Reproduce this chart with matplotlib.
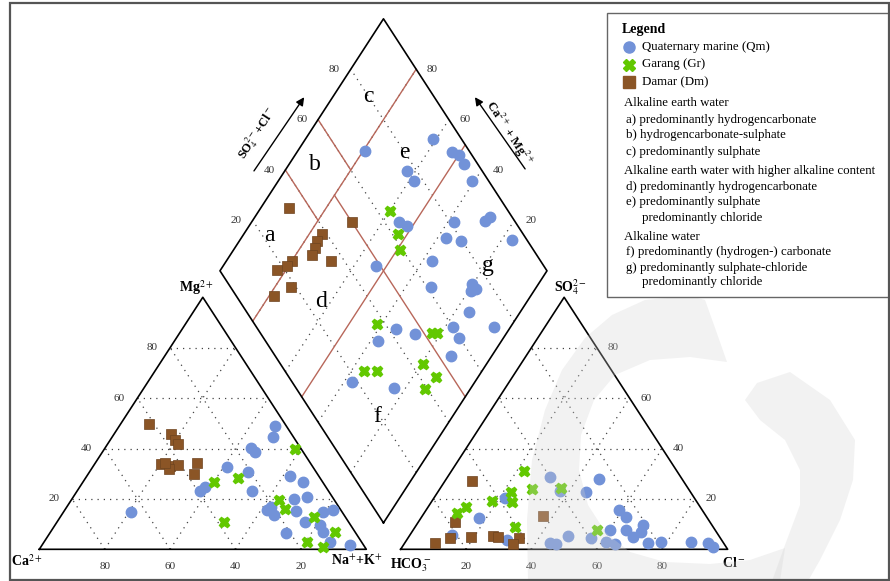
import numpy as np
import matplotlib
matplotlib.use('Agg')
import matplotlib.pyplot as plt
from matplotlib.patches import Rectangle, Polygon

plt.rcParams['font.family'] = ['Liberation Serif', 'DejaVu Serif']
plt.rcParams['mathtext.fontset'] = 'stix'

# ---- data (percent) ----
# cation triangle: Mg2+ %, Na+ + K+ %
qm_cat_mg = [14.7, 48.9, 44.4, 40.1, 38.7, 32.5, 30.8, 24.8, 23.3, 23.3, 29.1, 26.6, 19.8, 20.6,
             15.6, 13.6, 15.3, 6.3, 10.7, 9.6, 14.9, 15.6, 7.0, 3.0, 1.7, 16.7]
qm_cat_nak = [20.6, 47.6, 49.4, 44.6, 46.6, 41.3, 48.5, 38.3, 37.5, 53.4, 62.2, 67.2, 68.0, 71.7,
              61.7, 65.0, 71.0, 72.2, 75.9, 81.0, 79.2, 82.1, 83.4, 87.4, 94.1, 62.5]
gr_cat_mg = [26.8, 28.4, 39.7, 11.0, 19.6, 15.9, 12.7, 7.0, 3.0, 1.0]
gr_cat_nak = [40.1, 46.7, 58.4, 51.0, 63.6, 67.2, 77.7, 86.9, 80.5, 86.2]
dm_cat_mg = [49.7, 45.8, 43.4, 41.8, 33.8, 33.1, 33.5, 31.7, 34.4, 29.9, 34.4]
dm_cat_nak = [8.6, 17.4, 19.8, 21.6, 20.2, 23.5, 25.8, 23.9, 30.9, 32.4, 21.2]

# anion triangle: SO4 2- %, Cl- %
qm_an_so4 = [27.9, 22.6, 28.6, 23.3, 20.2, 12.5, 5.7, 3.7, 15.6, 12.7, 9.6, 7.0, 3.0, 2.8, 2.4, 1.0,
             2.4, 2.1, 5.3, 4.4, 7.7, 3.0, 2.1, 7.7, 5.0, 2.4]
qm_an_cl = [46.8, 45.5, 31.3, 37.0, 21.7, 17.7, 12.8, 30.6, 59.1, 62.7, 69.3, 70.1, 78.2, 87.4, 92.7, 94.9,
            44.4, 46.6, 48.6, 56.1, 60.1, 61.4, 64.4, 65.0, 68.5, 74.4]
gr_an_so4 = [31.2, 23.8, 24.2, 22.6, 18.9, 19.2, 16.7, 14.3, 9.0, 7.7]
gr_an_cl = [22.0, 28.4, 37.0, 22.6, 24.7, 18.2, 11.6, 10.0, 30.4, 56.2]
dm_an_so4 = [27.1, 11.0, 4.8, 4.4, 2.4, 5.3, 5.0, 4.4, 2.1, 13.2]
dm_an_cl = [8.4, 11.1, 19.0, 12.8, 9.3, 25.7, 27.3, 34.0, 33.4, 36.9]

# diamond: SO4+Cl %, Ca+Mg %
qm_dia_a = [68.0, 91.3, 94.5, 96.0, 95.7, 77.1, 77.1, 95.0, 64.3, 66.2, 81.1, 91.1, 93.3, 75.5, 79.8, 95.5,
            66.7, 48.8, 61.1, 74.5, 72.7, 74.5, 68.2, 72.6, 60.0, 59.7, 53.6, 42.3, 47.0, 34.4, 18.3, 30.0]
qm_dia_b = [79.6, 61.0, 52.5, 50.0, 46.6, 62.6, 58.6, 40.8, 54.9, 51.7, 38.1, 28.7, 27.9, 37.5, 32.1, 16.8,
            37.3, 53.2, 32.3, 20.3, 19.4, 18.2, 15.6, 5.2, 17.6, 13.6, 12.6, 34.6, 27.8, 37.6, 37.4, 23.7]
gr_dia_a = [64.0, 61.9, 59.3, 37.5, 24.2, 28.2, 52.3, 54.0, 43.5, 45.1, 39.4]
gr_dia_b = [59.8, 52.9, 48.9, 41.4, 36.2, 32.1, 22.9, 21.2, 19.5, 12.9, 13.7]
dm_dia_a = [33.7, 50.0, 38.5, 35.7, 33.6, 31.4, 36.0, 24.0, 21.6, 17.7, 18.4, 11.5]
dm_dia_b = [91.2, 69.2, 76.0, 76.3, 75.6, 75.0, 67.8, 79.8, 80.5, 82.6, 75.0, 78.6]

ticks = [20, 40, 60, 80]
region_letters = ['a', 'b', 'c', 'd', 'e', 'f', 'g']
# region label positions in diamond coords (SO4+Cl, Ca+Mg)
region_a = [22, 50, 80, 25, 80, 19, 83]
region_b = [92, 92, 89, 63, 67, 23, 19]

legend_lines = [
    ('Alkaline earth water', 0),
    ('a) predominantly hydrogencarbonate', 1),
    ('b) hydrogencarbonate-sulphate', 1),
    ('c) predominantly sulphate', 1),
    ('Alkaline earth water with higher alkaline content', 0),
    ('d) predominantly hydrogencarbonate', 1),
    ('e) predominantly sulphate', 1),
    ('predominantly chloride', 2),
    ('Alkaline water', 0),
    ('f) predominantly (hydrogen-) carbonate', 1),
    ('g) predominantly sulphate-chloride', 1),
    ('predominantly chloride', 2),
]

BLUE = '#7292d8'
GREEN = '#62c800'
BROWN = '#8b5526'
RED = '#b8675a'

H = np.sqrt(3) / 2
GAP = 0.105
OFF = 1 + GAP


def cat_xy(mg, nak):
    mg = np.asarray(mg) / 100.0
    nak = np.asarray(nak) / 100.0
    return nak + mg / 2, mg * H


def an_xy(so4, cl):
    so4 = np.asarray(so4) / 100.0
    cl = np.asarray(cl) / 100.0
    return OFF + cl + so4 / 2, so4 * H


def dia_xy(a, b):
    a = np.asarray(a) / 100.0
    b = np.asarray(b) / 100.0
    return 1 + GAP / 2 + (a - b) / 2, GAP * H + (a + b) * H


fig = plt.figure(figsize=(8.9, 5.81), dpi=100)
ax = fig.add_axes([0, 0, 1, 1])
ax.set_xlim(-0.1202, 2.6015)
ax.set_ylim(-0.1089, 1.8876)
ax.axis('off')


def fpx(x, y):
    return x / 890.0, 1 - y / 581.0


grid_kw = dict(color='#444444', lw=0.9, ls=(0, (1, 4)), zorder=1)

for t in ticks:
    # cation triangle
    x, y = cat_xy([t, t], [0, 100 - t]); ax.plot(x, y, **grid_kw)
    x, y = cat_xy([0, 100 - t], [t, t]); ax.plot(x, y, **grid_kw)
    x, y = cat_xy([0, 100 - t], [100 - t, 0]); ax.plot(x, y, **grid_kw)
    # anion triangle
    x, y = an_xy([t, t], [0, 100 - t]); ax.plot(x, y, **grid_kw)
    x, y = an_xy([0, 100 - t], [t, t]); ax.plot(x, y, **grid_kw)
    x, y = an_xy([0, 100 - t], [100 - t, 0]); ax.plot(x, y, **grid_kw)
    # diamond
    x, y = dia_xy([t, t], [0, 100]); ax.plot(x, y, **grid_kw)
    x, y = dia_xy([0, 100], [t, t]); ax.plot(x, y, **grid_kw)

x, y = cat_xy([0, 0, 100, 0], [0, 100, 0, 0]); ax.plot(x, y, color='black', lw=1.2, zorder=3)
x, y = an_xy([0, 0, 100, 0], [0, 100, 0, 0]); ax.plot(x, y, color='black', lw=1.2, zorder=3)
x, y = dia_xy([0, 100, 100, 0, 0], [0, 0, 100, 100, 0]); ax.plot(x, y, color='black', lw=1.2, zorder=3)

# region boundaries (Furtak & Langguth)
red_lines = [([0, 100], [80, 80]), ([0, 100], [50, 50]), ([50, 50], [0, 80]),
             ([40, 40], [80, 100]), ([60, 60], [80, 100])]
for la, lb in red_lines:
    x, y = dia_xy(la, lb)
    ax.plot(x, y, color=RED, lw=1.0, zorder=2)

for k, lab in enumerate(region_letters):
    x, y = dia_xy(region_a[k], region_b[k])
    ax.text(x, y, lab, fontsize=17, ha='center', va='center', zorder=4)

# tick labels
tick_kw = dict(fontsize=8, color='#333333', ha='center', va='center')
for t in ticks:
    x, y = cat_xy(0, 100 - t); ax.text(x, -0.058, str(t), **tick_kw)
    x, y = cat_xy(t, 0); ax.text(x - 0.055, y, str(t), **tick_kw)
    x, y = an_xy(0, t); ax.text(x, -0.058, str(t), **tick_kw)
    x, y = an_xy(t, 100 - t); ax.text(x + 0.05, y, str(t), **tick_kw)
    x, y = dia_xy(t, 100); ax.text(x - 0.05, y, str(t), **tick_kw)
    x, y = dia_xy(100, t); ax.text(x + 0.05, y, str(t), **tick_kw)

lab_kw = dict(fontsize=10, fontweight='bold', ha='center', va='center')
ax.text(-0.037, -0.04, r'Ca$^{2+}$', **lab_kw)
ax.text(0.972, -0.04, r'Na$^{+}$+K$^{+}$', **lab_kw)
ax.text(0.48, 0.90, r'Mg$^{2+}$', **lab_kw)
ax.text(OFF + 0.03, -0.055, r'HCO$_3^-$', **lab_kw)
ax.text(OFF + 1.02, -0.048, r'Cl$^-$', **lab_kw)
ax.text(OFF + 0.52, 0.90, r'SO$_4^{2-}$', **lab_kw)

# axis arrows of the diamond
arr = dict(arrowstyle='-|>', color='black', lw=1.0, mutation_scale=12)
ax.annotate('', xy=(0.8148, 1.5615), xytext=(0.6517, 1.2924), arrowprops=arr)
ax.annotate('', xy=(1.3273, 1.5615), xytext=(1.4905, 1.2993), arrowprops=arr)
ax.text(0.6657, 1.4306, r'SO$_4^{2-}$+Cl$^-$', rotation=57, fontsize=9, fontweight='bold',
        ha='center', va='center')
ax.text(1.4364, 1.4306, r'Ca$^{2+}$ + Mg$^{2+}$', rotation=-57, fontsize=9, fontweight='bold',
        ha='center', va='center')

# samples
mk = dict(ls='none', zorder=5)
groups = [
    (qm_cat_mg, qm_cat_nak, qm_an_so4, qm_an_cl, qm_dia_a, qm_dia_b,
     dict(marker='o', ms=7.5, color=BLUE, mec=BLUE)),
    (dm_cat_mg, dm_cat_nak, dm_an_so4, dm_an_cl, dm_dia_a, dm_dia_b,
     dict(marker='s', ms=7, color=BROWN, mec='#6e4420', mew=0.5)),
    (gr_cat_mg, gr_cat_nak, gr_an_so4, gr_an_cl, gr_dia_a, gr_dia_b,
     dict(marker='X', ms=7.5, color=GREEN, mec=GREEN)),
]
for mg_, na_, s4, cl_, da, db, style in groups:
    x, y = cat_xy(mg_, na_); ax.plot(x, y, **style, **mk)
    x, y = an_xy(s4, cl_); ax.plot(x, y, **style, **mk)
    x, y = dia_xy(da, db); ax.plot(x, y, **style, **mk)

# faint watermark in the lower right
wm_c = [(528, 581), (527, 520), (532, 460), (545, 410), (562, 370), (585, 338), (612, 315), (645, 300),
        (690, 296), (705, 300), (714, 325), (727, 362), (690, 357), (650, 360), (615, 375), (594, 400),
        (581, 435), (579, 470), (588, 505), (606, 533), (630, 552), (665, 562), (710, 564), (750, 560),
        (785, 548), (780, 581)]
wm_r = [(757, 383), (790, 372), (830, 400), (855, 440), (853, 480), (840, 520), (820, 560), (808, 581),
        (772, 581), (785, 545), (800, 505), (800, 470), (785, 440), (760, 420), (745, 400)]
for poly in (wm_c, wm_r):
    ax.add_patch(Polygon([fpx(*p) for p in poly], closed=True, transform=fig.transFigure,
                         fc='#d4d4d4', ec='none', alpha=0.3, zorder=6))

# outer frame
fig.patches.append(Rectangle(fpx(9.5, 579.5), (889 - 9.5) / 890, (579.5 - 3) / 581,
                             transform=fig.transFigure, fill=False, ec='#555555', lw=1.6))

# legend box
ax.add_patch(Rectangle(fpx(607, 297), (889 - 607) / 890, (297 - 13) / 581,
                       transform=fig.transFigure, fc='white', ec='#666666', lw=1.0, zorder=9))
fig.text(*fpx(622, 30), 'Legend', fontsize=10, fontweight='bold', va='center', zorder=11)
leg_items = [('Quaternary marine (Qm)', dict(marker='o', ms=8, color=BLUE)),
             ('Garang (Gr)', dict(marker='X', ms=8, color=GREEN)),
             ('Damar (Dm)', dict(marker='s', ms=8, color=BROWN))]
for k, (txt, st) in enumerate(leg_items):
    yy = 47 + k * 17.5
    lx, ly = fpx(628.5, yy)
    ax.plot([lx], [ly], transform=fig.transFigure, ls='none', zorder=10, **st)
    fig.text(*fpx(642, yy), txt, fontsize=9.3, va='center', zorder=11)
ys = [102.5, 119.5, 135.5, 152, 171, 186.5, 202.5, 218.5, 237, 252, 268, 282]
for (txt, lev), yy in zip(legend_lines, ys):
    xx = {0: 624, 1: 626, 2: 642}[lev]
    fig.text(*fpx(xx, yy), txt, fontsize=9.3, va='center', zorder=11)

fig.savefig('out.png', dpi=100)
